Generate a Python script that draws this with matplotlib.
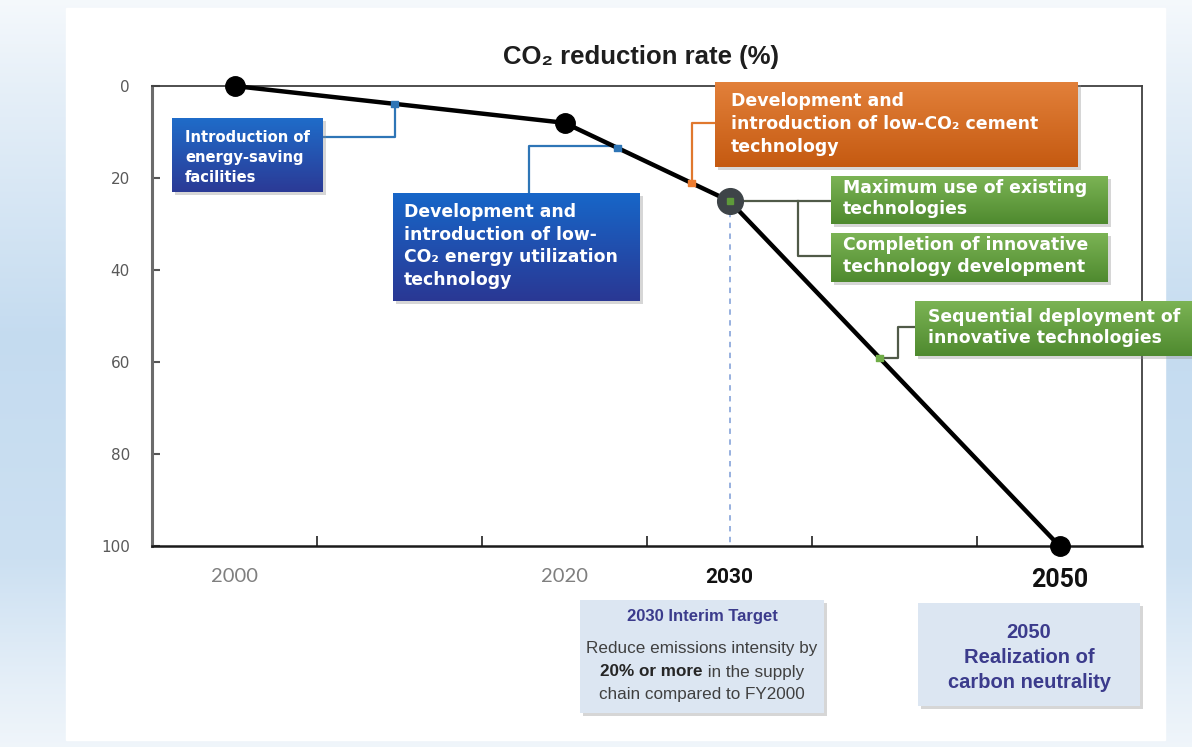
import numpy as np
import matplotlib
matplotlib.use("Agg")
import matplotlib.pyplot as plt
import matplotlib.colors as mcolors
from matplotlib.patches import Rectangle

# values
years = [2000, 2020, 2030, 2050]
reduction = [0, 8, 25, 100]
y_ticks = [0, 20, 40, 60, 80, 100]
minor_years = [2005, 2015, 2025, 2035, 2045]
label_years = [2000, 2020, 2030, 2050]
pin_years = [2009.7, 2023.2, 2027.7, 2039.1]
pin_colors = ['#2E75B6', '#2E75B6', '#ED7D31', '#70AD47']

W, H = 1192, 747
fig = plt.figure(figsize=(W / 100, H / 100), dpi=100)


def fx(x):
    return x / W


def fy(y):
    return 1 - y / H


# page background: pale blue side bands with a white panel
bg = fig.add_axes([0, 0, 1, 1], zorder=-5)
bg.set_axis_off()
t = np.linspace(0, 1, 300)
strength = np.interp(t, [0, 0.12, 0.45, 0.75, 0.9, 1], [0.05, 0.35, 1.0, 0.85, 0.4, 0.15])
pale = np.array([0.97, 0.98, 0.99])
blue = np.array([0.77, 0.86, 0.94])
grad = pale + (blue - pale) * strength[:, None]
bg.imshow(np.repeat(grad[:, None, :], 2, axis=1), extent=[0, 1, 0, 1], aspect='auto')
bg.add_patch(Rectangle((fx(66), fy(740)), fx(1165) - fx(66), fy(8) - fy(740), color='white'))
bg.set_xlim(0, 1)
bg.set_ylim(0, 1)

# main chart
ax = fig.add_axes([fx(152), fy(546), fx(1142) - fx(152), fy(86) - fy(546)])
ax.autoscale(False)
ax.set_xlim(1995, 2055)
ax.set_ylim(100, 0)

ax.plot([2030, 2030], [reduction[2], 100], color='#8FAADC', lw=1.3, ls=(0, (3, 3)), zorder=2)
ax.plot(years, reduction, color='black', lw=3.2, zorder=4, clip_on=False)
big = [i for i, yr in enumerate(years) if yr != 2030]
ax.plot([years[i] for i in big], [reduction[i] for i in big], 'o', ms=14,
        color='black', zorder=5, clip_on=False)
ax.plot([2030], [reduction[2]], 'o', ms=18.5, color='#3E4448', zorder=5)
ax.plot([2030], [reduction[2]], 's', ms=5, color='#5E9A3A', zorder=6)

pin_vals = np.interp(pin_years, years, reduction)
ax.scatter(pin_years, pin_vals, marker='s', s=22, c=pin_colors, zorder=6)

ax.set_yticks(y_ticks)
ax.tick_params(axis='y', direction='in', length=6, width=1.5, color='#555555',
               pad=16, labelsize=11, labelcolor='#595959')
ax.set_xticks(minor_years)
ax.set_xticklabels([])
ax.tick_params(axis='x', which='major', direction='in', length=7, width=1.3, color='#333333')
ax.set_xticks(label_years, minor=True)
ax.set_xticklabels([str(y) for y in label_years], minor=True)
ax.tick_params(axis='x', which='minor', length=0, pad=16)
xl = ax.get_xticklabels(minor=True)
for lab in xl[:2]:
    lab.set_fontfamily('Lato')
    lab.set_fontsize(14.5)
    lab.set_color('#7F7F7F')
xl[2].set_fontfamily('Roboto')
xl[2].set_fontsize(15)
xl[2].set_fontweight('bold')
xl[2].set_color('#111111')
xl[3].set_fontfamily('Roboto')
xl[3].set_fontsize(18)
xl[3].set_fontweight('bold')
xl[3].set_color('#111111')

for side, col, lw in [('left', '#6B6B6B', 2.2), ('bottom', '#1A1A1A', 1.8),
                      ('top', '#404040', 1.3), ('right', '#404040', 1.3)]:
    ax.spines[side].set_color(col)
    ax.spines[side].set_linewidth(lw)

fig.text(fx(641), fy(57), 'CO₂ reduction rate (%)', ha='center', va='center',
         fontsize=18.5, fontweight='bold', color='#1E1E1E',
         family=['Liberation Sans', 'DejaVu Sans'])

to_fig = ax.transData + fig.transFigure.inverted()


def data_px(x, y):
    a, b = to_fig.transform((x, y))
    return a * W, (1 - b) * H


def conn(color, pts):
    ax.plot([fx(p[0]) for p in pts], [fy(p[1]) for p in pts], color=color, lw=1.6,
            transform=fig.transFigure, clip_on=False, zorder=3)


pins = [data_px(x, y) for x, y in zip(pin_years, pin_vals)]
mid = data_px(2030, reduction[2])
conn('#2E75B6', [(322, 137), (pins[0][0], 137), pins[0]])
conn('#2E75B6', [(529, 193), (529, 146), (pins[1][0], 146)])
conn('#E0782E', [(715, 123), (pins[2][0], 123), pins[2]])
conn('#505A48', [mid, (831, mid[1])])
conn('#505A48', [(798, mid[1]), (798, 256), (831, 256)])
conn('#505A48', [pins[3], (898, pins[3][1]), (898, 327), (915, 327)])


def shadow(x0, y0, x1, y1):
    fig.add_artist(Rectangle((fx(x0 + 3), fy(y1 + 3)), fx(x1) - fx(x0), fy(y0) - fy(y1),
                             transform=fig.transFigure, color='#8C8C8C', alpha=0.35,
                             zorder=1.5, lw=0))


def grad_box(x0, y0, x1, y1, top, bottom, lines, tx, ty, dy, size):
    shadow(x0, y0, x1, y1)
    bax = fig.add_axes([fx(x0), fy(y1), fx(x1) - fx(x0), fy(y0) - fy(y1)], zorder=2)
    bax.set_axis_off()
    c = np.linspace(0, 1, 64)[:, None]
    img = (1 - c) * np.array(mcolors.to_rgb(top)) + c * np.array(mcolors.to_rgb(bottom))
    bax.imshow(img[:, None, :], aspect='auto', extent=[0, 1, 0, 1])
    for k, s in enumerate(lines):
        fig.text(fx(tx), fy(ty + k * dy), s, color='white', fontsize=size,
                 fontweight='bold', family='DejaVu Sans', va='center', ha='left', zorder=5)


grad_box(172, 118, 323, 192, '#1F6CC9', '#2B3A96',
         ['Introduction of', 'energy-saving', 'facilities'], 185, 137, 20.5, 10.6)
grad_box(393, 193, 640, 301, '#1766C8', '#2A3894',
         ['Development and', 'introduction of low-', 'CO₂ energy utilization', 'technology'],
         404, 212, 22.7, 12.4)
grad_box(715, 82, 1078, 167, '#E2803A', '#C55A11',
         ['Development and', 'introduction of low-CO₂ cement', 'technology'],
         731, 101, 23, 12.5)
grad_box(831, 176, 1108, 224, '#7BB354', '#4F8A2F',
         ['Maximum use of existing', 'technologies'], 843, 188, 21.5, 12.4)
grad_box(831, 233, 1108, 282, '#7BB354', '#4F8A2F',
         ['Completion of innovative', 'technology development'], 843, 245, 22, 12.4)
grad_box(915, 301, 1192, 356, '#7BB354', '#4F8A2F',
         ['Sequential deployment of', 'innovative technologies'], 928, 317, 21, 12.4)

# target boxes under the axis
for x0, y0, x1, y1 in [(580, 600, 824, 713), (918, 603, 1140, 706)]:
    shadow(x0, y0, x1, y1)
    fig.add_artist(Rectangle((fx(x0), fy(y1)), fx(x1) - fx(x0), fy(y0) - fy(y1),
                             transform=fig.transFigure, color='#DCE6F2', zorder=2, lw=0))

sans = ['Liberation Sans', 'DejaVu Sans']
navy = '#3B3B8C'
body = 12.3
fig.text(fx(702), fy(617), '2030 Interim Target', ha='center', va='center', fontsize=12,
         fontweight='bold', color=navy, family=sans, zorder=5)
fig.text(fx(702), fy(649), 'Reduce emissions intensity by', ha='center', va='center',
         fontsize=body, color='#404040', family=sans, zorder=5)
fig.text(fx(702), fy(694), 'chain compared to FY2000', ha='center', va='center',
         fontsize=body, color='#404040', family=sans, zorder=5)
r = fig.canvas.get_renderer()
ta = fig.text(0, fy(672), '20% or more', va='center', fontsize=body, fontweight='bold',
              color='#262626', family=sans, zorder=5)
tb = fig.text(0, fy(672), ' in the supply', va='center', fontsize=body,
              color='#404040', family=sans, zorder=5)
wa = ta.get_window_extent(r).width
wb = tb.get_window_extent(r).width
start = 702 - (wa + wb) / 2
ta.set_x(fx(start))
tb.set_x(fx(start + wa))

for k, s in enumerate(['2050', 'Realization of', 'carbon neutrality']):
    fig.text(fx(1029), fy(632 + k * 25.5), s, ha='center', va='center', fontsize=14.5,
             fontweight='bold', color=navy, family=sans, zorder=5)

fig.savefig('out.png', dpi=100)
